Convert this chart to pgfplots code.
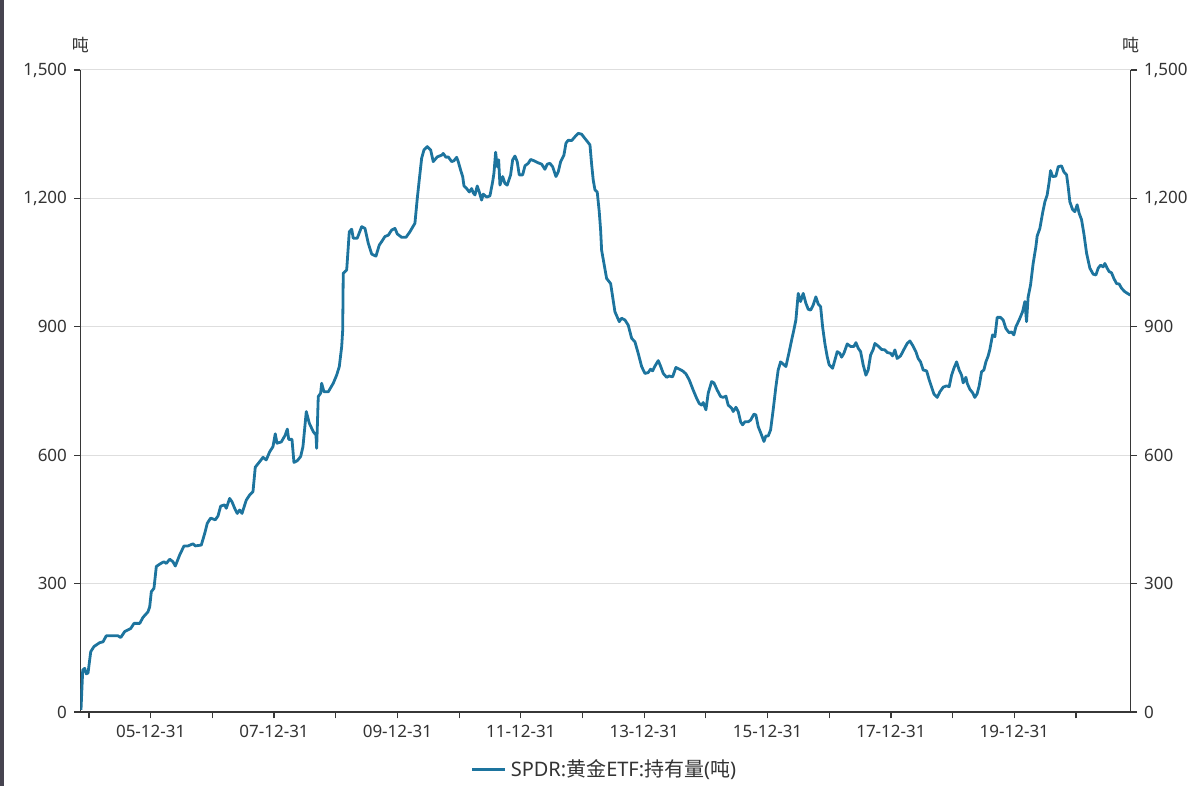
\documentclass[border=0pt]{standalone}
\usepackage{fontspec}
\setmainfont{Noto Sans}
\newfontfamily\cjk{Noto Sans CJK SC}
\usepackage{pgfplots}
\usepackage{pgfplotstable}
\pgfplotsset{compat=1.18}

\definecolor{gldblue}{RGB}{29,116,158}
\definecolor{axisgray}{RGB}{55,55,55}
\definecolor{gridgray}{RGB}{222,222,222}
\definecolor{labelgray}{RGB}{51,51,51}
\definecolor{stripgray}{RGB}{70,68,80}

% SPDR gold ETF holdings (tonnes), x = decimal year (2005.0 = 04-12-31)
\pgfplotstableread{
year tons
2004.870 5
2004.898 98
2004.930 102
2004.956 89
2004.984 91
2005.028 141
2005.081 153
2005.173 162
2005.227 164
2005.280 178
2005.361 178
2005.470 178
2005.514 174
2005.579 188
2005.632 192
2005.676 195
2005.729 207
2005.822 207
2005.875 221
2005.956 234
2005.984 246
2006.010 281
2006.053 289
2006.091 340
2006.162 347
2006.216 351
2006.253 347
2006.308 357
2006.361 351
2006.399 341
2006.470 367
2006.540 388
2006.604 388
2006.686 393
2006.723 388
2006.820 390
2006.875 417
2006.917 441
2006.972 453
2007.047 449
2007.091 458
2007.134 481
2007.199 484
2007.225 476
2007.280 499
2007.318 491
2007.361 476
2007.403 464
2007.442 472
2007.480 464
2007.549 495
2007.604 507
2007.658 515
2007.695 572
2007.767 585
2007.820 595
2007.873 589
2007.929 608
2007.982 620
2008.019 650
2008.047 628
2008.117 631
2008.181 647
2008.214 661
2008.237 637
2008.290 637
2008.322 583
2008.376 587
2008.431 597
2008.468 620
2008.522 702
2008.570 675
2008.635 655
2008.679 647
2008.690 616
2008.716 737
2008.755 745
2008.771 768
2008.809 748
2008.878 748
2008.959 768
2009.014 787
2009.057 807
2009.096 854
2009.112 892
2009.121 1025
2009.177 1033
2009.219 1122
2009.258 1128
2009.283 1107
2009.348 1107
2009.420 1134
2009.473 1130
2009.527 1095
2009.582 1070
2009.651 1065
2009.705 1091
2009.744 1099
2009.797 1111
2009.851 1114
2009.906 1126
2009.959 1130
2009.997 1117
2010.068 1109
2010.138 1109
2010.202 1122
2010.283 1142
2010.321 1200
2010.353 1243
2010.392 1294
2010.429 1313
2010.483 1321
2010.538 1313
2010.580 1286
2010.645 1297
2010.716 1301
2010.742 1305
2010.786 1296
2010.823 1297
2010.878 1286
2010.916 1288
2010.959 1296
2010.985 1286
2011.024 1266
2011.057 1251
2011.078 1229
2011.121 1223
2011.164 1215
2011.202 1223
2011.228 1213
2011.256 1208
2011.293 1229
2011.326 1215
2011.364 1196
2011.390 1210
2011.446 1203
2011.499 1206
2011.543 1239
2011.564 1259
2011.591 1308
2011.617 1274
2011.640 1290
2011.661 1231
2011.705 1251
2011.742 1235
2011.779 1231
2011.834 1255
2011.867 1290
2011.904 1299
2011.941 1286
2011.974 1255
2012.029 1255
2012.066 1276
2012.120 1282
2012.159 1291
2012.212 1288
2012.282 1283
2012.337 1280
2012.390 1268
2012.428 1280
2012.471 1282
2012.515 1274
2012.569 1251
2012.606 1262
2012.645 1286
2012.698 1301
2012.731 1329
2012.768 1336
2012.823 1335
2012.877 1344
2012.930 1352
2012.985 1350
2013.022 1343
2013.066 1335
2013.120 1325
2013.147 1280
2013.173 1243
2013.201 1220
2013.238 1215
2013.270 1170
2013.293 1126
2013.309 1079
2013.347 1048
2013.390 1013
2013.455 1001
2013.488 970
2013.525 935
2013.595 912
2013.633 920
2013.687 916
2013.740 904
2013.796 873
2013.849 865
2013.902 838
2013.958 807
2014.011 791
2014.064 793
2014.103 801
2014.136 797
2014.173 808
2014.227 821
2014.265 808
2014.308 791
2014.363 782
2014.405 785
2014.460 783
2014.513 805
2014.567 801
2014.622 797
2014.676 790
2014.729 776
2014.794 752
2014.849 733
2014.891 721
2014.930 717
2014.956 723
2015.000 706
2015.037 745
2015.092 772
2015.129 769
2015.183 752
2015.238 737
2015.280 735
2015.324 738
2015.361 717
2015.416 710
2015.442 702
2015.486 712
2015.523 702
2015.562 678
2015.594 671
2015.632 678
2015.685 678
2015.724 682
2015.778 696
2015.810 694
2015.847 667
2015.902 647
2015.940 632
2015.972 645
2016.009 645
2016.048 659
2016.090 706
2016.134 760
2016.171 799
2016.210 818
2016.252 813
2016.296 807
2016.350 842
2016.389 869
2016.426 893
2016.458 916
2016.496 978
2016.534 959
2016.577 978
2016.620 955
2016.658 941
2016.697 939
2016.739 951
2016.782 970
2016.820 953
2016.859 947
2016.891 900
2016.928 861
2016.966 830
2016.998 811
2017.053 803
2017.090 822
2017.128 842
2017.171 838
2017.199 829
2017.236 838
2017.290 860
2017.345 854
2017.398 854
2017.431 863
2017.468 850
2017.507 842
2017.549 811
2017.593 787
2017.630 799
2017.669 834
2017.711 847
2017.739 861
2017.792 855
2017.847 847
2017.901 846
2017.938 840
2017.993 838
2018.025 832
2018.063 846
2018.100 826
2018.155 832
2018.209 847
2018.262 861
2018.306 867
2018.349 857
2018.403 842
2018.440 826
2018.479 818
2018.522 799
2018.577 797
2018.619 776
2018.658 759
2018.695 743
2018.748 735
2018.792 748
2018.846 759
2018.901 762
2018.943 760
2018.982 787
2019.019 803
2019.063 818
2019.105 799
2019.144 787
2019.170 769
2019.214 782
2019.235 768
2019.278 754
2019.322 746
2019.359 735
2019.397 744
2019.429 762
2019.468 795
2019.505 799
2019.538 818
2019.575 832
2019.602 847
2019.646 881
2019.684 877
2019.721 922
2019.776 922
2019.818 916
2019.862 896
2019.915 886
2019.954 888
2019.991 881
2020.024 900
2020.077 916
2020.132 935
2020.170 959
2020.197 912
2020.223 970
2020.262 998
2020.304 1048
2020.348 1087
2020.369 1112
2020.413 1130
2020.456 1165
2020.494 1192
2020.531 1208
2020.564 1239
2020.586 1265
2020.619 1251
2020.672 1252
2020.710 1274
2020.764 1276
2020.802 1262
2020.846 1255
2020.872 1227
2020.899 1192
2020.943 1174
2020.980 1169
2021.017 1185
2021.050 1165
2021.089 1150
2021.126 1118
2021.170 1072
2021.223 1037
2021.277 1023
2021.321 1021
2021.358 1037
2021.397 1044
2021.439 1040
2021.466 1048
2021.503 1037
2021.536 1029
2021.575 1026
2021.612 1013
2021.656 1001
2021.698 1000
2021.737 990
2021.790 982
2021.844 977
2021.880 974
}\gld

\pgfplotsset{
  common/.style={
    scale only axis,
    width=525pt, height=321pt,
    at={(0,0)}, anchor=south west,
    xmin=2004.862, xmax=2021.882,
    ymin=0, ymax=1500,
    ytick={0,300,600,900,1200,1500},
    tick align=outside,
    major tick length=3.25pt,
    axis line style={axisgray, line width=0.6pt},
    tick style={axisgray, line width=0.6pt},
    ticklabel style={font=\fontsize{8.5}{10}\selectfont, text=labelgray},
    /pgf/number format/assume math mode=true,
    /pgf/number format/1000 sep={,},
    clip mode=individual,
  }
}

\begin{document}
\begin{tikzpicture}
\useasboundingbox (-40.25pt,-37pt) rectangle (559.75pt,356pt);
\fill[stripgray] (-40.25pt,-37pt) rectangle (-38.25pt,356pt);

\begin{axis}[
    common,
    axis x line*=bottom,
    axis y line*=left,
    xtick={2005,...,2021},
    xticklabels={,05-12-31,,07-12-31,,09-12-31,,11-12-31,,13-12-31,,15-12-31,,17-12-31,,19-12-31,},
    ymajorgrids,
    major grid style={gridgray, line width=0.5pt},
    legend style={at={(0.5,-0.09)}, anchor=center, draw=none, fill=none,
        font=\fontsize{10}{12}\selectfont, text=labelgray,
        /tikz/every even column/.append style={column sep=0pt}},
    legend image code/.code={\draw[line width=1.5pt] (0pt,0pt) -- (16.5pt,0pt);},
]
\addplot[gldblue, line width=1.4pt, line join=round] table[x=year, y=tons]{\gld};
\addlegendentry{SPDR:{\cjk 黄金}ETF:{\cjk 持有量}({\cjk 吨})}

\node[font=\fontsize{8.5}{10}\selectfont\cjk, text=labelgray] at (rel axis cs:0,1) [yshift=12.5pt] {吨};
\node[font=\fontsize{8.5}{10}\selectfont\cjk, text=labelgray] at (rel axis cs:1,1) [yshift=12.5pt] {吨};
\end{axis}

\begin{axis}[
    common,
    axis y line*=right,
    hide x axis,
]
\end{axis}
\end{tikzpicture}
\end{document}
